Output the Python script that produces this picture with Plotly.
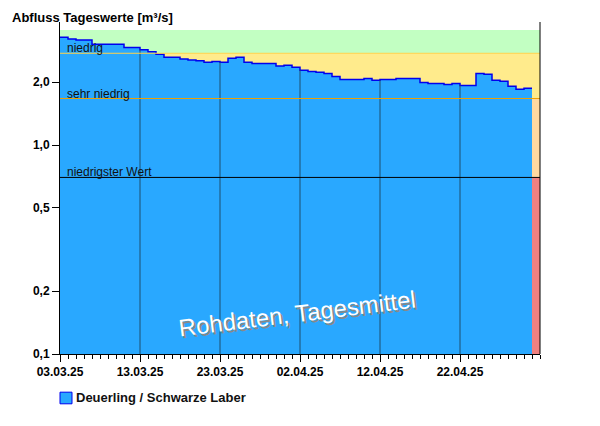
import plotly.graph_objects as go
import pandas as pd
import numpy as np

values = [3.28, 3.22, 3.18, 3.18, 3.04, 3.04, 3.04, 3.04, 2.93, 2.93,
          2.86, 2.80, 2.72, 2.63, 2.63, 2.58, 2.55, 2.53, 2.49, 2.51,
          2.49, 2.60, 2.63, 2.49, 2.46, 2.46, 2.46, 2.39, 2.41, 2.36,
          2.28, 2.25, 2.23, 2.20, 2.13, 2.06, 2.06, 2.06, 2.08, 2.04,
          2.06, 2.06, 2.08, 2.08, 2.08, 1.99, 1.97, 1.97, 1.95, 1.97,
          1.93, 1.93, 2.20, 2.18, 2.04, 2.02, 1.91, 1.85, 1.87]
dates = pd.date_range("2025-03-03", periods=len(values), freq="D")
thresholds = {"niedrig": 2.75, "sehr niedrig": 1.67, "niedrigster Wert": 0.70}
band_top = 3.55
ytick_vals = [0.1, 0.2, 0.5, 1.0, 2.0]
ytick_text = ["0,1", "0,2", "0,5", "1,0", "2,0"]
xtick_dates = pd.date_range("2025-03-03", periods=6, freq="10D")
series_name = "Deuerling / Schwarze Laber"

x_end = dates[-1] + pd.Timedelta(days=1)
xs = [d.strftime("%Y-%m-%d") for d in list(dates) + [x_end]]
ys = values + [values[-1]]

fig = go.Figure()
fig.add_trace(go.Scatter(x=[xs[0], xs[-1]], y=[0.1, 0.1], mode="lines",
                         line=dict(width=0), showlegend=False, hoverinfo="skip"))
fig.add_trace(go.Scatter(x=xs, y=ys, mode="lines", line_shape="hv",
                         line=dict(color="#0000EE", width=1.5), fill="tonexty",
                         fillcolor="#29A8FF", name=series_name, showlegend=False))

x0, x1 = "2025-03-03", "2025-05-02"
bands = [(thresholds["niedrig"], band_top, "#C2FFC2"),
         (thresholds["sehr niedrig"], thresholds["niedrig"], "#FFEB8C"),
         (thresholds["niedrigster Wert"], thresholds["sehr niedrig"], "#FFD9A0"),
         (0.1, thresholds["niedrigster Wert"], "#F08080")]
shapes = []
for lo, hi, c in bands:
    shapes.append(dict(type="rect", xref="x", yref="y", x0=x0, x1=x1, y0=lo, y1=hi,
                       fillcolor=c, line_width=0, layer="below"))
val_by_date = dict(zip(dates, values))
for d in xtick_dates[1:]:
    ds = d.strftime("%Y-%m-%d")
    top = min(val_by_date[d], val_by_date[d - pd.Timedelta(days=1)])
    shapes.append(dict(type="line", xref="x", yref="y", x0=ds, x1=ds, y0=0.1, y1=top,
                       line=dict(color="#1F4F6F", width=1)))
line_cols = {"niedrig": "#FFD24A", "sehr niedrig": "#F0A000", "niedrigster Wert": "#000000"}
annotations = []
for name, v in thresholds.items():
    shapes.append(dict(type="line", xref="x", yref="y", x0=x0, x1=x1, y0=v, y1=v,
                       line=dict(color=line_cols[name], width=1)))
    annotations.append(dict(x="2025-03-03 16:00", y=float(np.log10(v)), xref="x", yref="y",
                            text=name, showarrow=False, xanchor="left", yanchor="bottom",
                            yshift=-4, font=dict(family="Liberation Sans", size=12, color="#111")))
shapes.append(dict(type="line", xref="paper", yref="paper", x0=1, x1=1, y0=0, y1=1,
                   line=dict(color="black", width=1)))
# legend box
shapes.append(dict(type="rect", xref="paper", yref="paper", x0=0.0, x1=0.025,
                   y0=-0.15, y1=-0.115, fillcolor="#29A8FF", line=dict(color="#0000EE", width=1)))
annotations.append(dict(x=0.03, y=-0.1325, xref="paper", yref="paper", text="<b>" + series_name + "</b>",
                        showarrow=False, xanchor="left", yanchor="middle",
                        font=dict(family="Liberation Sans", size=13, color="#111")))
for dx, dy, col in [(2, -2, "#888"), (0, 0, "white")]:
    annotations.append(dict(x=0.493, y=0.03, xref="paper", yref="paper", text="Rohdaten, Tagesmittel",
                            showarrow=False, textangle=-7,
                            font=dict(family="Liberation Sans", size=24, color=col),
                            xshift=dx, yshift=dy))
annotations.append(dict(x=-0.105, y=1.042, xref="paper", yref="paper",
                        text="<b>Abfluss Tageswerte [m³/s]</b>",
                        showarrow=False, xanchor="left", yanchor="top",
                        font=dict(family="Liberation Sans", size=13, color="black")))

fig.update_layout(
    width=592, height=418, margin=dict(l=52, r=60, t=14, b=72, autoexpand=False),
    plot_bgcolor="white", paper_bgcolor="white",
    shapes=shapes, annotations=annotations,
    font=dict(family="Liberation Sans", size=12, color="black"),
    showlegend=False,
    xaxis=dict(range=[x0, x1], tickvals=[d.strftime("%Y-%m-%d") for d in xtick_dates],
               ticktext=["<b>" + d.strftime("%d.%m.%y") + "</b>" for d in xtick_dates],
               ticks="outside", ticklen=7, tickcolor="black", showgrid=False,
               showline=True, linecolor="black", zeroline=False, automargin=False,
               minor=dict(dtick=86400000, ticks="outside", ticklen=4, tickcolor="black", tick0="2025-03-03"),
               tickfont=dict(size=12)),
    yaxis=dict(type="log", range=[-1, 0.589], tickvals=ytick_vals,
               ticktext=["<b>" + t + "</b>" for t in ytick_text], automargin=False,
               ticks="outside", ticklen=7, tickcolor="black", showgrid=False,
               showline=True, linecolor="black", zeroline=False, tickfont=dict(size=12)),
)
fig.write_html("out.html")
